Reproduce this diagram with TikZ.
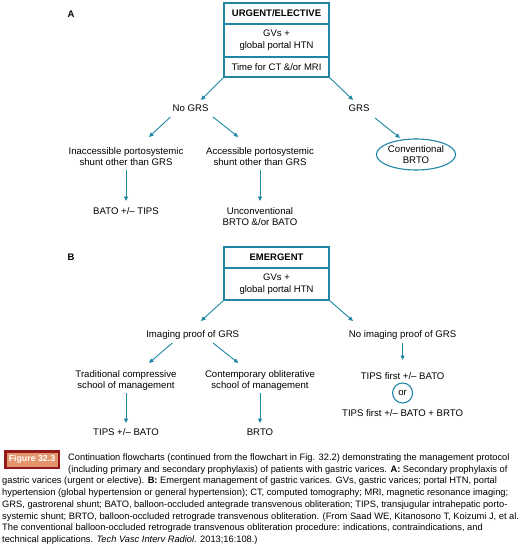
\documentclass[tikz,border=0pt]{standalone}
\usepackage{fontspec}
\setmainfont{Liberation Sans}
\usetikzlibrary{arrows.meta,calc,shapes.geometric}
\definecolor{tealc}{RGB}{32,134,163}
\definecolor{figred}{RGB}{150,25,25}
\definecolor{figfill}{RGB}{226,148,108}
\begin{document}
\begin{tikzpicture}[x=1pt,y=-1pt,
  lbl/.style={font=\fontsize{9.6}{11}\selectfont, align=center, inner sep=1pt},
  boxrow/.style={draw=tealc, line width=1.1pt, minimum width=105pt, inner sep=0pt, font=\fontsize{9.5}{12}\selectfont, align=center},
  arr/.style={draw=tealc, line width=0.9pt, -{Triangle[length=4.5pt,width=4pt]}},
  captxt/.style={font=\fontsize{9.3}{10}\selectfont, anchor=base west, inner sep=0pt},
  panel/.style={font=\bfseries\fontsize{9.5}{11}\selectfont, inner sep=0pt}]
\useasboundingbox (0,0) rectangle (530,544);
% ---------- Panel A ----------
\node[panel] (pa) at (71,14) {A};
\node[boxrow, minimum height=21pt] (a1) at (276.5,13.5) {\textbf{URGENT/ELECTIVE}};
\node[boxrow, minimum height=33pt] (a2) at (276.5,40.5) {GVs +\\global portal HTN};
\node[boxrow, minimum height=20pt] (a3) at (276.5,67) {Time for CT \&/or MRI};
\node[lbl] (nogrs) at (190.6,108) {No GRS};
\node[lbl] (grs) at (359,108) {GRS};
\node[lbl] (inacc) at (126,156.5) {Inaccessible portosystemic\\shunt other than GRS};
\node[lbl] (acc) at (260,156.5) {Accessible portosystemic\\shunt other than GRS};
\node[lbl, ellipse, draw=tealc, line width=1.1pt, minimum width=70pt, minimum height=31pt, inner sep=0pt] (conv) at (416,154.5) {Conventional\\BRTO};
\node[lbl] (bato) at (126,211) {BATO +/– TIPS};
\node[lbl] (uncon) at (260,216.5) {Unconventional\\BRTO \&/or BATO};
\coordinate (t1) at (201,100);
\coordinate (t2) at (353,100);
\coordinate (s3) at (170.4,117);
\coordinate (t3) at (149,137);
\coordinate (s4) at (213,117);
\coordinate (t4) at (238.3,137);
\coordinate (s5) at (375,118);
\coordinate (t5) at (400,138);
\coordinate (s6) at (126,170);
\coordinate (t6) at (126,201);
\coordinate (s7) at (260,170);
\coordinate (t7) at (260,201);
\draw[arr] (a3.south west) -- (t1);
\draw[arr] (a3.south east) -- (t2);
\draw[arr] (s3) -- (t3);
\draw[arr] (s4) -- (t4);
\draw[arr] (s5) -- (t5);
\draw[arr] (s6) -- (t6);
\draw[arr] (s7) -- (t7);
% ---------- Panel B ----------
\node[panel] (pb) at (71,257) {B};
\node[boxrow, minimum height=21pt] (b1) at (276.5,257.5) {\textbf{EMERGENT}};
\node[boxrow, minimum height=32pt, font=\fontsize{9.5}{12.5}\selectfont] (b2) at (276.5,284) {GVs +\\global portal HTN};
\node[lbl] (img) at (192.7,335) {Imaging proof of GRS};
\node[lbl] (noimg) at (402.6,335) {No imaging proof of GRS};
\node[lbl] (trad) at (126,381) {Traditional compressive\\school of management};
\node[lbl] (cont) at (260,381) {Contemporary obliterative\\school of management};
\node[lbl] (tf1) at (402.6,376) {TIPS first +/– BATO};
\node[lbl, circle, draw=tealc, line width=1.1pt, minimum size=20pt, inner sep=0pt] (or) at (402.6,393) {or};
\node[lbl] (tf2) at (402.6,413) {TIPS first +/– BATO + BRTO};
\node[lbl] (tb) at (126,432) {TIPS +/– BATO};
\node[lbl] (brto) at (260,432) {BRTO};
\coordinate (u1) at (201,321);
\coordinate (u2) at (353,321);
\coordinate (v3) at (172.4,343);
\coordinate (u3) at (149,363);
\coordinate (v4) at (213,343);
\coordinate (u4) at (238.3,363);
\coordinate (v5) at (402.6,343);
\coordinate (u5) at (402.6,360);
\coordinate (v6) at (126,393);
\coordinate (u6) at (126,423);
\coordinate (v7) at (260,393);
\coordinate (u7) at (260,423);
\draw[arr] (b2.south west) -- (u1);
\draw[arr] (b2.south east) -- (u2);
\draw[arr] (v3) -- (u3);
\draw[arr] (v4) -- (u4);
\draw[arr] (v5) -- (u5);
\draw[arr] (v6) -- (u6);
\draw[arr] (v7) -- (u7);
% ---------- Caption ----------
\node[draw=figred, line width=2.5pt, fill=figfill, text=white, font=\bfseries\fontsize{8.8}{10}\selectfont, minimum width=53.5pt, minimum height=16.5pt, inner sep=0pt] (fig) at (32,459.5) {Figure 32.3};
\node[captxt] (c1) at (68,460.5) {Continuation flowcharts (continued from the flowchart in Fig. 32.2) demonstrating the management protocol};
\node[captxt] (c2) at (68,472.2) {(including primary and secondary prophylaxis) of patients with gastric varices. \textbf{A:} Secondary prophylaxis of};
\node[captxt] (c3) at (2,483.9) {gastric varices (urgent or elective). \textbf{B:} Emergent management of gastric varices. GVs, gastric varices; portal HTN, portal};
\node[captxt] (c4) at (2,495.6) {hypertension (global hypertension or general hypertension); CT, computed tomography; MRI, magnetic resonance imaging;};
\node[captxt] (c5) at (2,507.3) {GRS, gastrorenal shunt; BATO, balloon-occluded antegrade transvenous obliteration; TIPS, transjugular intrahepatic porto-};
\node[captxt] (c6) at (2,519) {systemic shunt; BRTO, balloon-occluded retrograde transvenous obliteration. (From Saad WE, Kitanosono T, Koizumi J, et al.};
\node[captxt] (c7) at (2,530.7) {The conventional balloon-occluded retrograde transvenous obliteration procedure: indications, contraindications, and};
\node[captxt] (c8) at (2,542.4) {technical applications. \textit{Tech Vasc Interv Radiol}. 2013;16:108.)};
\end{tikzpicture}
\end{document}
